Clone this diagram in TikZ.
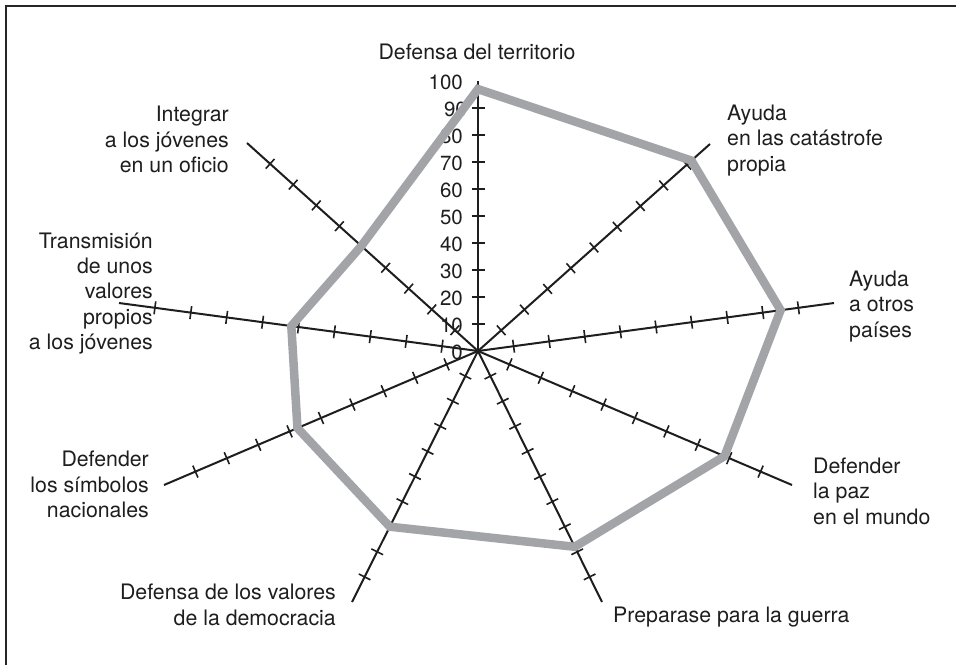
\documentclass[tikz,border=0pt]{standalone}
\usepackage{fontspec}
\setmainfont{TeX Gyre Heros}
\usetikzlibrary{calc}
\definecolor{polygray}{RGB}{163,164,168}
\definecolor{ink}{RGB}{30,30,30}
\begin{document}
\begin{tikzpicture}[x=1pt,y=-1pt,
  axisline/.style={line width=2pt, draw=ink},
  tickline/.style={line width=1.6pt, draw=ink},
  profile/.style={line width=8.5pt, draw=polygray, line join=miter},
  lab/.style={inner sep=0pt, font=\fontsize{21.3}{25.3}\selectfont, text=ink},
  num/.style={inner sep=0pt, font=\fontsize{20.5}{24}\selectfont, text=ink, anchor=east},
  frameline/.style={line width=2.4pt, draw=black!85}]
\useasboundingbox (0,0) rectangle (956,665);
\fill[white] (0,0) rectangle (956,665);
\draw[frameline] (6,665) -- (6,6) -- (956,6);
% axes
\coordinate (C) at (478,351);
\coordinate (e1) at (478,81);
\coordinate (e2) at (710,144);
\coordinate (e3) at (834,303);
\coordinate (e4) at (792,485);
\coordinate (e5) at (602,602);
\coordinate (e6) at (352,602);
\coordinate (e7) at (164,485);
\coordinate (e8) at (119,303);
\coordinate (e9) at (247,143);
\foreach \i in {1,...,9}{
  \draw[axisline] (C) -- (e\i);
  \foreach \k in {1,...,10}{
    \coordinate (t) at ($(C)!\k/10!(e\i)$);
    \draw[tickline] ($(t)!6.5pt!90:(e\i)$) -- ($(t)!6.5pt!-90:(e\i)$);
  }
}
% scale numbers
\foreach \v/\x in {0/463,10/463,20/463,30/463,40/463,50/463,60/463,70/463,80/463,90/467,100/463}{
  \node[num] (n\v) at (\x,{352.5-2.7*\v}) {\v};
}
% profile
\coordinate (v1) at ($(C)!0.97!(e1)$);
\coordinate (v2) at ($(C)!0.92!(e2)$);
\coordinate (v3) at ($(C)!0.85!(e3)$);
\coordinate (v4) at ($(C)!0.785!(e4)$);
\coordinate (v5) at ($(C)!0.78!(e5)$);
\coordinate (v6) at ($(C)!0.70!(e6)$);
\coordinate (v7) at ($(C)!0.575!(e7)$);
\coordinate (v8) at ($(C)!0.52!(e8)$);
\coordinate (v9) at ($(C)!0.505!(e9)$);
\draw[profile] (v1) -- (v2) -- (v3) -- (v4) -- (v5) -- (v6) -- (v7) -- (v8) -- (v9) -- cycle;
% labels (base anchor = baseline of the last line)
\node[lab, anchor=base, align=center] (l1) at (477,59) {Defensa del territorio};
\node[lab, anchor=base west, align=left] (l2) at (727,171) {Ayuda\\en las catástrofe\\propia};
\node[lab, anchor=base west, align=left] (l3) at (849,337) {Ayuda\\a otros\\países};
\node[lab, anchor=base west, align=left] (l4) at (813,524) {Defender\\la paz\\en el mundo};
\node[lab, anchor=base west] (l5) at (613,622) {Preparase para la guerra};
\node[lab, anchor=base east, align=right] (l6) at (336,625) {Defensa de los valores\\de la democracia};
\node[lab, anchor=base east, align=right] (l7) at (149,517.5) {Defender\\los símbolos\\nacionales};
\node[lab, anchor=base east, align=right] (l8) at (153,349.3) {Transmisión\\de unos\\valores\\propios\\a los jóvenes};
\node[lab, anchor=base east, align=right] (l9) at (229,172.3) {Integrar\\a los jóvenes\\en un oficio};
\end{tikzpicture}
\end{document}
